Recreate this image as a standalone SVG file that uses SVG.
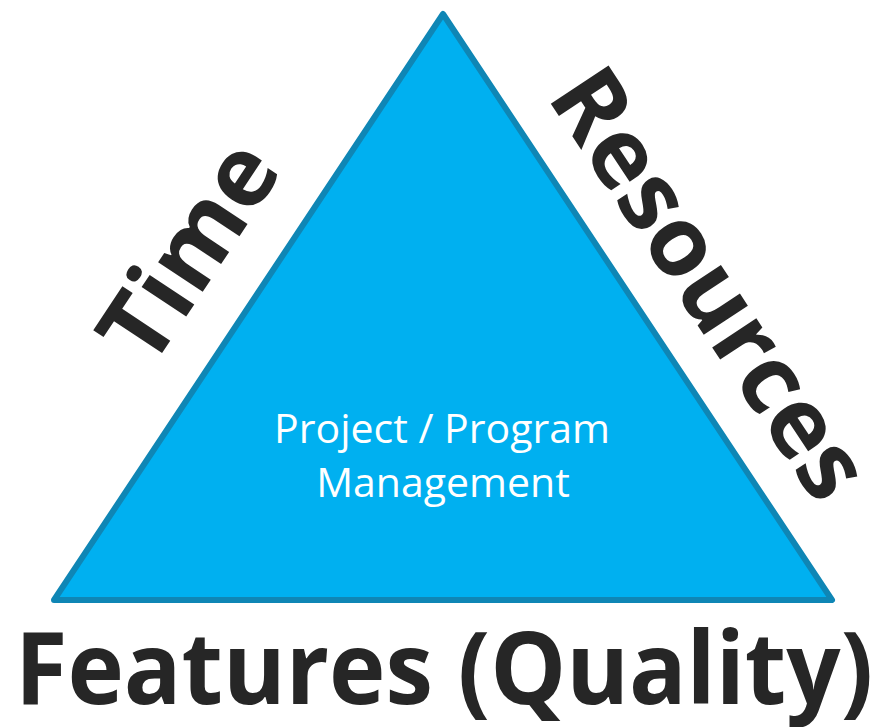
<svg xmlns="http://www.w3.org/2000/svg" width="882" height="727" viewBox="0 0 882 727">
  <style>
    .side { font-family: "Open Sans", "Liberation Sans", sans-serif; font-weight: 700; fill: #262626; }
    .inner { font-family: "Open Sans", "Liberation Sans", sans-serif; font-weight: 400; fill: #ffffff; font-size: 41px; text-anchor: middle; }
  </style>
  <rect width="882" height="727" fill="#ffffff"/>
  <g id="triangle">
    <path d="M443 14 L832 600 L54 600 Z" fill="#00B0F0" stroke="#0F86B5" stroke-width="6" stroke-linejoin="round"/>
    <text class="inner" x="442" y="443">Project / Program</text>
    <text class="inner" x="443" y="497">Management</text>
  </g>
  <g id="time">
    <text class="side" font-size="98" text-anchor="middle" transform="translate(217 270) rotate(-56.5)">Time</text>
  </g>
  <g id="resources">
    <text class="side" font-size="97" text-anchor="middle" transform="translate(682 302) rotate(56.5)">Resources</text>
  </g>
  <g id="features">
    <text class="side" font-size="100" x="15" y="704" textLength="858" lengthAdjust="spacingAndGlyphs">Features (Quality)</text>
  </g>
</svg>
